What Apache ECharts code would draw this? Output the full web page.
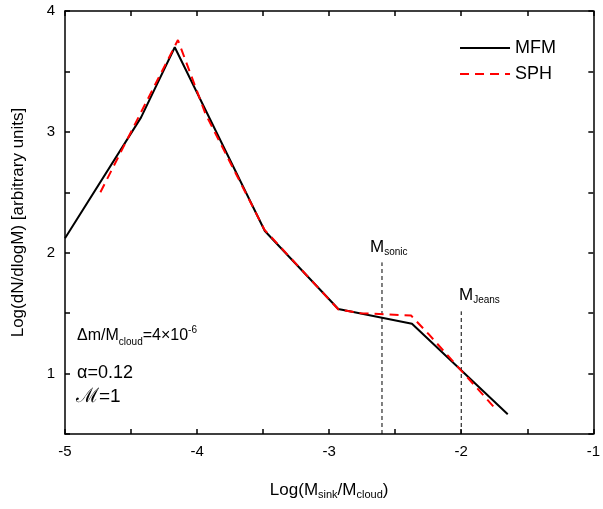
<!DOCTYPE html>
<html><head><meta charset="utf-8">
<script src="https://cdn.jsdelivr.net/npm/echarts@6/dist/echarts.min.js"></script>
<style>html,body{margin:0;padding:0;background:#fff}#c{width:603px;height:509px}</style>
</head><body><div id="c"></div>
<script>
const mfmX = [-5.0, -4.424, -4.169, -3.487, -2.931, -2.373, -1.648];
const mfmY = [2.12, 3.12, 3.70, 2.18, 1.534, 1.412, 0.664];
const sphX = [-4.732, -4.43, -4.145, -3.937, -3.49, -2.93, -2.76, -2.38, -2.25, -1.75];
const sphY = [2.50, 3.15, 3.76, 3.15, 2.19, 1.53, 1.50, 1.48, 1.33, 0.72];
const sonicX = -2.6, sonicTop = 1.92;
const jeansX = -2.0, jeansTop = 1.515;
const xTicks = [-5, -4, -3, -2, -1];
const yTicks = [1, 2, 3, 4];

const F = 'Liberation Sans, Arial, sans-serif';
const zip = (a, b) => a.map((v, i) => [v, b[i]]);
const chart = echarts.init(document.getElementById('c'));
const axisCommon = {
  axisLine: {show: true, onZero: false, lineStyle: {color: '#000', width: 1.5}},
  axisTick: {show: true, inside: true, length: 5, lineStyle: {color: '#000', width: 1.5}},
  splitLine: {show: false}
};
chart.setOption({
  animation: false,
  grid: {left: 65, right: 5, top: 11, bottom: 75, containLabel: false},
  xAxis: [
    Object.assign({type: 'value', min: -5, max: -1, interval: 0.5, position: 'bottom',
      name: '{a|Log(M}{s|sink}{a|/M}{s|cloud}{a|)}', nameLocation: 'middle', nameGap: 46,
      nameTextStyle: {rich: {a: {fontFamily: F, fontSize: 17, color: '#000'}, s: {fontFamily: F, fontSize: 11, color: '#000', padding: [9,0,0,0]}}},
      axisLabel: {fontFamily: F, fontSize: 15, color: '#000', margin: 10,
        formatter: v => xTicks.indexOf(v) >= 0 ? String(v) : ''}}, axisCommon),
    Object.assign({type: 'value', min: -5, max: -1, interval: 0.5, position: 'top',
      axisLabel: {show: false}}, axisCommon)
  ],
  yAxis: [
    Object.assign({type: 'value', min: 0.5, max: 4, interval: 0.5, position: 'left',
      name: 'Log(dN/dlogM) [arbitrary units]', nameLocation: 'middle', nameGap: 38,
      nameTextStyle: {fontFamily: F, fontSize: 17, color: '#000'},
      axisLabel: {fontFamily: F, fontSize: 15, color: '#000', margin: 10,
        formatter: v => yTicks.indexOf(v) >= 0 ? String(v) : ''}}, axisCommon),
    Object.assign({type: 'value', min: 0.5, max: 4, interval: 0.5, position: 'right',
      axisLabel: {show: false}}, axisCommon)
  ],
  legend: {
    orient: 'vertical', right: 42, top: 34, itemWidth: 50, itemHeight: 12, itemGap: 8,
    textStyle: {fontFamily: F, fontSize: 18, color: '#000'},
    itemStyle: {opacity: 0},
    data: ['MFM', 'SPH']
  },
  series: [
    {name: 'MFM', type: 'line', data: zip(mfmX, mfmY), showSymbol: false, symbol: 'none',
      lineStyle: {color: '#000', width: 2}, itemStyle: {color: '#000'}, z: 3},
    {name: 'SPH', type: 'line', data: zip(sphX, sphY), showSymbol: false, symbol: 'none',
      lineStyle: {color: '#ff0000', width: 2, type: [9, 6]}, itemStyle: {color: '#ff0000'}, z: 4},
    {name: 'sonic', type: 'line', data: [[sonicX, 0.5], [sonicX, sonicTop]], showSymbol: false, symbol: 'none',
      lineStyle: {color: '#000', width: 1, type: [4, 3]}, silent: true},
    {name: 'jeans', type: 'line', data: [[jeansX, 0.5], [jeansX, jeansTop]], showSymbol: false, symbol: 'none',
      lineStyle: {color: '#000', width: 1, type: [4, 3]}, silent: true}
  ],
  graphic: [
    {type: 'text', left: 370, top: 239, style: {text: '{a|M}{s|sonic}',
      rich: {a: {fontFamily: F, fontSize: 17, fill: '#000'}, s: {fontFamily: F, fontSize: 10, fill: '#000', padding: [10,0,0,0]}}}},
    {type: 'text', left: 459, top: 287, style: {text: '{a|M}{s|Jeans}',
      rich: {a: {fontFamily: F, fontSize: 17, fill: '#000'}, s: {fontFamily: F, fontSize: 10, fill: '#000', padding: [10,0,0,0]}}}},
    {type: 'text', left: 77, top: 325, style: {text: '{a|Δm/M}{s|cloud}{a|=4×10}{p|-6}',
      rich: {a: {fontFamily: F, fontSize: 16, fill: '#000'}, s: {fontFamily: F, fontSize: 10, fill: '#000', padding: [12,0,0,0]}, p: {fontFamily: F, fontSize: 10, fill: '#000', padding: [0,0,12,0]}}}},
    {type: 'text', left: 77, top: 364, style: {text: 'α=0.12', fontFamily: F, fontSize: 18, fill: '#000'}},
    {type: 'text', left: 76, top: 387, style: {text: '{m|ℳ}{a|=1}',
      rich: {m: {fontFamily: 'DejaVu Serif, serif', fontSize: 20, fill: '#000'}, a: {fontFamily: F, fontSize: 19, fill: '#000'}}}}
  ]
});
</script></body></html>
